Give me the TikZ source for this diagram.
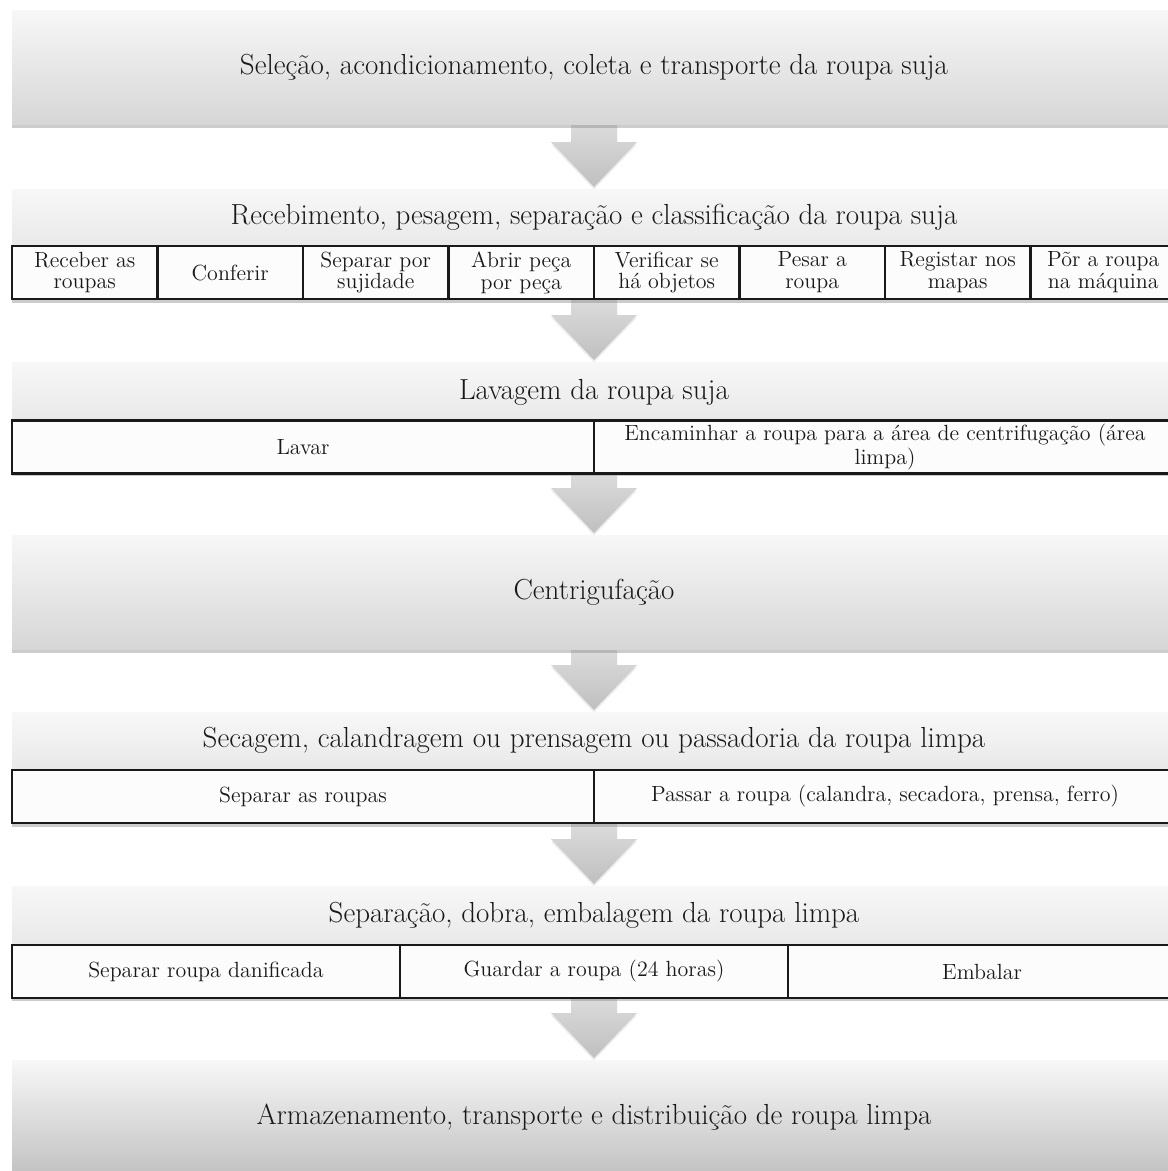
\documentclass[tikz,border=0pt]{standalone}
\usepackage{fontspec}
\usepackage{tikz}
\usetikzlibrary{calc,shadows,backgrounds}

\tikzset{
  bigbox/.style={inner sep=0pt, outer sep=0pt, minimum width=23.28cm, minimum height=2.3cm,
    top color=black!3, bottom color=black!16,
    drop shadow={opacity=0.4, shadow xshift=0pt, shadow yshift=-0.07cm},
    text=black!90, font=\fontsize{16.5}{19}\selectfont},
  headbox/.style={bigbox, minimum height=2.22cm, bottom color=black!14},
  headtext/.style={inner sep=0pt, text=black!90, font=\fontsize{16.5}{19}\selectfont},
  cellbox/.style={draw=black!90, line width=1.3pt, fill=black!1, inner sep=0pt, outer sep=0pt,
    minimum height=1.06cm, align=center, text=black!90, font=\fontsize{12.5}{12.5}\selectfont},
  flowarrow/.style={top color=black!14, bottom color=black!25,
    drop shadow={opacity=0.15, shadow xshift=0pt, shadow yshift=-0.05cm}},
}

\begin{document}
\begin{tikzpicture}[x=0.02cm,y=-0.02cm]
          \useasboundingbox (0,0) rectangle (1168,1171);
          \clip (0,0) rectangle (1168,1171);

          \node[bigbox] (sel) at (594,67.5) {Seleção, acondicionamento, coleta e transporte da roupa suja};

          \node[headbox] (rec) at (594,244.5) {};
          \node[headtext] (rectxt) at (594,217) {Recebimento, pesagem, separação e classificação da roupa suja};
          \foreach \i/\t in {1/{Receber as\\roupas}, 2/{Conferir}, 3/{Separar por\\sujidade},
                4/{Abrir peça\\por peça}, 5/{Verificar se\\há objetos}, 6/{Pesar a\\roupa},
                7/{Registar nos\\mapas}, 8/{Põr a roupa\\na máquina}}
            \node[cellbox, minimum width=2.91cm] (rec\i) at ({12+145.5*(\i-0.5)},272.5) {\t};

          \node[headbox] (lav) at (594,417.5) {};
          \node[headtext] (lavtxt) at (594,392) {Lavagem da roupa suja};
          \node[cellbox, minimum width=11.64cm] (lav1) at (303,447) {Lavar};
          \node[cellbox, minimum width=11.64cm] (lav2) at (885,447) {Encaminhar a roupa para a área de centrifugação (área\\limpa)};

          \node[bigbox] (cen) at (594,592.5) {Centrigufação};

          \node[headbox] (sec) at (594,767.5) {};
          \node[headtext] (sectxt) at (594,740) {Secagem, calandragem ou prensagem ou passadoria da roupa limpa};
          \node[cellbox, minimum width=11.64cm] (sec1) at (303,796.5) {Separar as roupas};
          \node[cellbox, minimum width=11.64cm] (sec2) at (885,796.5) {Passar a roupa (calandra, secadora, prensa, ferro)};

          \node[headbox] (sep) at (594,941.5) {};
          \node[headtext] (septxt) at (594,915) {Separação, dobra, embalagem da roupa limpa};
          \foreach \i/\t in {1/{Separar roupa danificada}, 2/{Guardar a roupa (24 horas)}, 3/{Embalar}}
            \node[cellbox, minimum width=7.76cm] (sep\i) at ({12+388*(\i-0.5)},971.5) {\t};

          \node[bigbox, bottom color=black!24] (arm) at (594,1117.5) {Armazenamento, transporte e distribuição de roupa limpa};

          % block arrows between the steps
          \begin{scope}[on background layer]
            \foreach \a/\b in {sel/rec, rec/lav, lav/cen, cen/sec, sec/sep, sep/arm}
              \path[flowarrow] ($(\a.south)+(-23,0)$) -- ($(\b.north)+(-23,-47)$)
                -- ($(\b.north)+(-43,-47)$) -- ($(\b.north)+(0,-2)$)
                -- ($(\b.north)+(43,-47)$) -- ($(\b.north)+(23,-47)$)
                -- ($(\a.south)+(23,0)$) -- cycle;
          \end{scope}
        \end{tikzpicture}
\end{document}
